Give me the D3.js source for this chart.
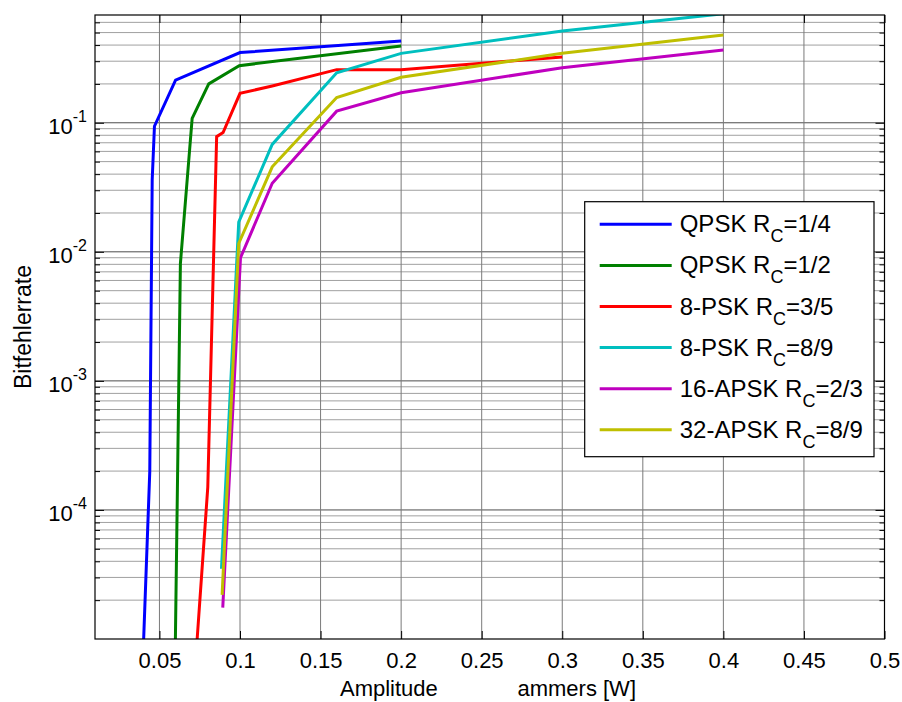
<!DOCTYPE html>
<html>
<head>
<meta charset="utf-8">
<script src="https://cdn.jsdelivr.net/npm/d3@7"></script>
<style>
  body { margin: 0; background: #fff; }
  text { font-family: "Liberation Sans", Arial, sans-serif; fill: #000; }
</style>
</head>
<body>
<div class="chart"></div>
<script>
const margin = { top: 15, right: 17.5, bottom: 63, left: 95 };
const width = 902 - margin.left - margin.right;
const height = 702 - margin.top - margin.bottom;

// axis ticks
const xTicks = [0.05, 0.1, 0.15, 0.2, 0.25, 0.3, 0.35, 0.4, 0.45, 0.5];
const xTickLabels = ["0.05", "0.1", "0.15", "0.2", "0.25", "0.3", "0.35", "0.4", "0.45", "0.5"];
const yTicks = [1e-1, 1e-2, 1e-3, 1e-4];
const yTickExp = ["-1", "-2", "-3", "-4"];

// legend entries (modulation + code rate)
const modulations = ["QPSK", "QPSK", "8-PSK", "8-PSK", "16-APSK", "32-APSK"];
const codeRates = ["1/4", "1/2", "3/5", "8/9", "2/3", "8/9"];
const colors = ["#0000ff", "#008000", "#ff0000", "#00bfbf", "#bf00bf", "#bfbf00"];

// amplitude of jammer [W] vs bit error rate, per curve
const qpsk14X = [0.0402, 0.0440, 0.0455, 0.0469, 0.060, 0.100, 0.200];
const qpsk14Y = [1e-5, 2e-4, 0.036, 0.094, 0.214, 0.35, 0.43];
const qpsk12X = [0.0599, 0.0630, 0.0703, 0.0806, 0.0995, 0.200];
const qpsk12Y = [1e-5, 0.0081, 0.108, 0.20, 0.277, 0.394];
const psk835X = [0.0734, 0.0800, 0.0855, 0.0895, 0.100, 0.120, 0.160, 0.200, 0.300];
const psk835Y = [1e-5, 1.5e-4, 0.078, 0.084, 0.169, 0.193, 0.258, 0.258, 0.324];
const psk889X = [0.0885, 0.0992, 0.120, 0.160, 0.200, 0.300, 0.400];
const psk889Y = [3.5e-5, 0.017, 0.068, 0.244, 0.345, 0.514, 0.70];
const apsk1623X = [0.0893, 0.1003, 0.120, 0.160, 0.200, 0.300, 0.400];
const apsk1623Y = [1.75e-5, 0.009, 0.034, 0.123, 0.171, 0.267, 0.366];
const apsk3289X = [0.0889, 0.0992, 0.120, 0.160, 0.200, 0.300, 0.400];
const apsk3289Y = [2.2e-5, 0.0116, 0.0456, 0.157, 0.225, 0.345, 0.479];

const seriesX = [qpsk14X, qpsk12X, psk835X, psk889X, apsk1623X, apsk3289X];
const seriesY = [qpsk14Y, qpsk12Y, psk835Y, psk889Y, apsk1623Y, apsk3289Y];

const series = seriesX.map(function(xs, i) {
    return xs.map(function(x, j) { return { x: x, y: seriesY[i][j] }; });
});

const svg = d3.select('.chart')
    .append('svg')
    .attr('width', 902)
    .attr('height', 702)
    .append('g')
    .attr('transform', `translate(${margin.left},${margin.top})`);

const x_scale = d3.scaleLinear()
    .domain([0.01, 0.5])
    .range([0, width]);

const y_scale = d3.scaleLog()
    .domain([1e-5, 0.684])
    .range([height, 0]);

// minor log ticks 2..9 x 10^k
var minorTicks = [];
for (var k = -5; k <= -1; k++) {
    for (var m = 2; m <= 9; m++) {
        var v = m * Math.pow(10, k);
        if (v < y_scale.domain()[1]) minorTicks.push(v);
    }
}

/* GRID */
svg.append("g").selectAll("line")
    .data(minorTicks)
    .enter().append("line")
    .attr("x1", 0).attr("x2", width)
    .attr("y1", d => y_scale(d)).attr("y2", d => y_scale(d))
    .attr("stroke", "#a0a0a0").attr("stroke-width", 1);

svg.append("g").selectAll("line")
    .data(yTicks)
    .enter().append("line")
    .attr("x1", 0).attr("x2", width)
    .attr("y1", d => y_scale(d)).attr("y2", d => y_scale(d))
    .attr("stroke", "#4d4d4d").attr("stroke-width", 1);

svg.append("g").selectAll("line")
    .data(xTicks.slice(0, -1))
    .enter().append("line")
    .attr("x1", d => x_scale(d)).attr("x2", d => x_scale(d))
    .attr("y1", 0).attr("y2", height)
    .attr("stroke", "#7a7a7a").attr("stroke-width", 1);

/* CURVES */
svg.append("clipPath").attr("id", "plotclip")
    .append("rect").attr("width", width).attr("height", height);

const line = d3.line()
    .x(d => x_scale(d.x))
    .y(d => y_scale(d.y));

svg.append("g")
    .attr("clip-path", "url(#plotclip)")
    .selectAll("path")
    .data(series)
    .enter().append("path")
    .attr("d", line)
    .attr("fill", "none")
    .attr("stroke", (d, i) => colors[i])
    .attr("stroke-width", 3);

/* AXES (ticks inside, matlab style) */
svg.append("g")
    .attr("transform", "translate(0," + height + ")")
    .call(d3.axisBottom(x_scale)
        .tickValues(xTicks)
        .tickFormat((d, i) => xTickLabels[i])
        .tickSize(-8)
        .tickSizeOuter(0)
        .tickPadding(13))
    .call(g => g.select(".domain").remove())
    .call(g => g.selectAll("text").attr("font-size", 22).attr("font-family", null));

svg.append("g")
    .call(d3.axisTop(x_scale).tickValues(xTicks).tickFormat("").tickSize(-8).tickSizeOuter(0))
    .call(g => g.select(".domain").remove());

svg.append("g")
    .call(d3.axisLeft(y_scale).tickValues(yTicks).tickFormat("").tickSize(-9).tickSizeOuter(0))
    .call(g => g.select(".domain").remove());
svg.append("g")
    .call(d3.axisLeft(y_scale).tickValues(minorTicks).tickFormat("").tickSize(-5).tickSizeOuter(0))
    .call(g => g.select(".domain").remove());
svg.append("g")
    .attr("transform", "translate(" + width + ",0)")
    .call(d3.axisRight(y_scale).tickValues(yTicks).tickFormat("").tickSize(-9).tickSizeOuter(0))
    .call(g => g.select(".domain").remove());
svg.append("g")
    .attr("transform", "translate(" + width + ",0)")
    .call(d3.axisRight(y_scale).tickValues(minorTicks).tickFormat("").tickSize(-5).tickSizeOuter(0))
    .call(g => g.select(".domain").remove());

// y tick labels 10^k
const ylab = svg.append("g").selectAll("text")
    .data(yTicks)
    .enter().append("text")
    .attr("x", -8)
    .attr("y", d => y_scale(d) + 11)
    .attr("text-anchor", "end")
    .attr("font-size", 22);
ylab.append("tspan").text("10");
ylab.append("tspan").attr("dy", -12).attr("font-size", 16).text((d, i) => yTickExp[i]);

// box
svg.append("rect")
    .attr("width", width).attr("height", height)
    .attr("fill", "none").attr("stroke", "#000").attr("stroke-width", 1.2);

/* LABELS */
svg.append("text")
    .attr("transform", "translate(-64," + (height / 2) + ") rotate(-90)")
    .attr("text-anchor", "middle")
    .attr("font-size", 23)
    .text("Bitfehlerrate");

// x label, the middle part is blanked in the original
svg.append("text")
    .attr("x", 340 - margin.left).attr("y", 696 - margin.top)
    .attr("font-size", 22)
    .text("Amplitude");
svg.append("text")
    .attr("x", 636 - margin.left).attr("y", 696 - margin.top)
    .attr("text-anchor", "end")
    .attr("font-size", 22)
    .text("ammers [W]");

/* LEGEND */
const legend = svg.append("g")
    .attr("transform", "translate(" + (584.7 - margin.left) + "," + (201.7 - margin.top) + ")");

legend.append("rect")
    .attr("width", 289.3).attr("height", 255)
    .attr("fill", "#fff").attr("stroke", "#000").attr("stroke-width", 1.2);

const row_space = 41.1;
const items = legend.selectAll("g.item")
    .data(modulations)
    .enter().append("g")
    .attr("class", "item")
    .attr("transform", (d, i) => "translate(0," + (22.6 + i * row_space) + ")");

items.append("line")
    .attr("x1", 15).attr("x2", 87)
    .attr("stroke", (d, i) => colors[i])
    .attr("stroke-width", 3);

const itemText = items.append("text")
    .attr("x", 95).attr("y", 8)
    .attr("font-size", 24);
itemText.append("tspan").text(d => d + " R");
itemText.append("tspan").attr("dy", 10).attr("font-size", 18).text("C");
itemText.append("tspan").attr("dy", -10).text((d, i) => "=" + codeRates[i]);
</script>
</body>
</html>
